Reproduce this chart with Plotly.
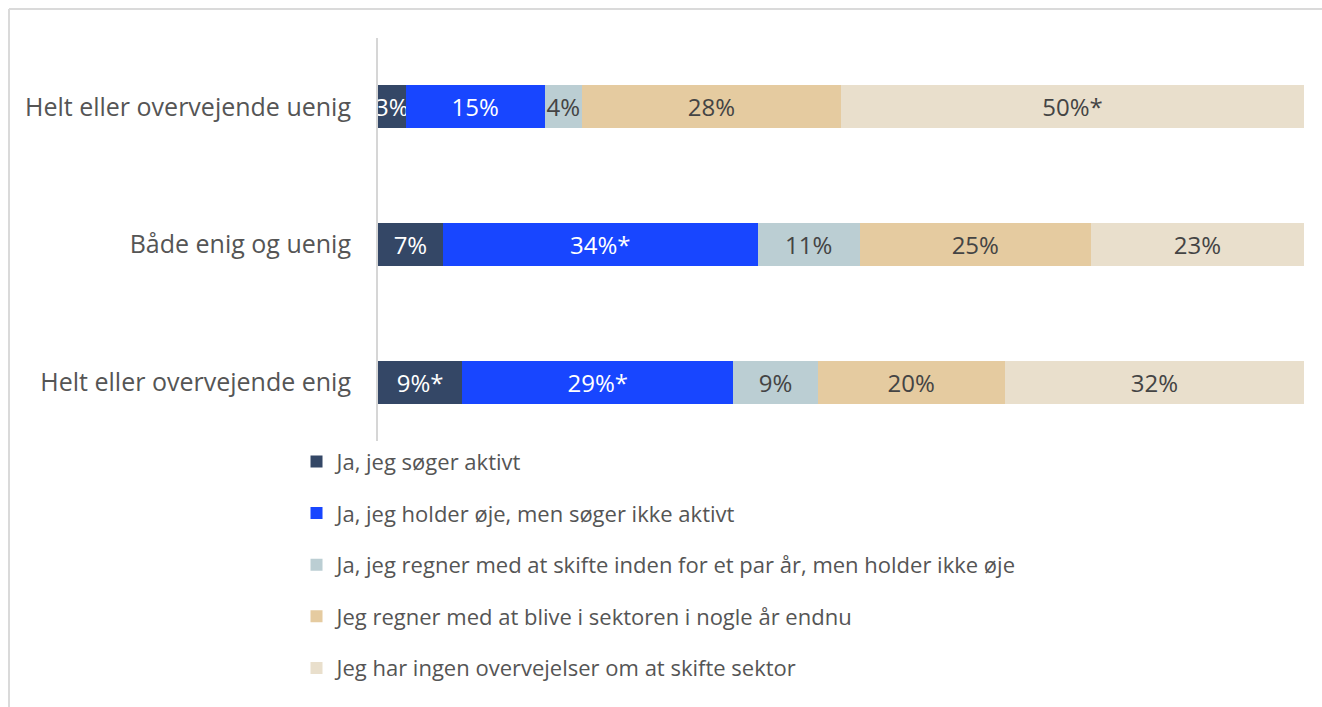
import plotly.graph_objects as go

# Response groups (top to bottom) and answer options
categories = [
    "Helt eller overvejende uenig",
    "Både enig og uenig",
    "Helt eller overvejende enig",
]
series_names = [
    "Ja, jeg søger aktivt",
    "Ja, jeg holder øje, men søger ikke aktivt",
    "Ja, jeg regner med at skifte inden for et par år, men holder ikke øje",
    "Jeg regner med at blive i sektoren i nogle år endnu",
    "Jeg har ingen overvejelser om at skifte sektor",
]
values = [
    [3, 7, 9],
    [15, 34, 29],
    [4, 11, 9],
    [28, 25, 20],
    [50, 23, 32],
]
# Significance markers appended to the value labels
markers = [
    ["", "", "*"],
    ["", "*", "*"],
    ["", "", ""],
    ["", "", ""],
    ["*", "", ""],
]
colors = ["#344766", "#1846FF", "#BBCED3", "#E5CBA0", "#E9DFCC"]
text_colors = ["#FFFFFF", "#FFFFFF", "#444444", "#444444", "#444444"]

FONT = "Open Sans"

fig = go.Figure()
for i, name in enumerate(series_names):
    fig.add_trace(go.Bar(
        y=categories,
        x=values[i],
        name=name,
        orientation="h",
        marker=dict(color=colors[i], line=dict(width=0)),
        text=[f"{v}%{m}" for v, m in zip(values[i], markers[i])],
        textposition="inside",
        insidetextanchor="middle",
        textangle=0,
        constraintext="none",
        textfont=dict(family=FONT, size=24, color=text_colors[i]),
        legendgroup=f"g{i}",
        hoverinfo="skip",
    ))

# Light frame along the top and left edges
fig.add_shape(type="line", xref="paper", yref="paper",
              x0=-0.3985, x1=1.03, y0=1.0702, y1=1.0702,
              line=dict(color="#DADADA", width=2))
fig.add_shape(type="line", xref="paper", yref="paper",
              x0=-0.3985, x1=-0.3985, y0=1.0702, y1=-0.65,
              line=dict(color="#DADADA", width=2))

fig.update_layout(
    width=1322,
    height=707,
    barmode="stack",
    barnorm="percent",
    bargap=0.69,
    plot_bgcolor="white",
    paper_bgcolor="white",
    margin=dict(l=378, r=18, t=38, b=256, autoexpand=False),
    font=dict(family=FONT, color="#555555"),
    uniformtext=dict(minsize=24, mode="show"),
    showlegend=True,
    legend=dict(
        orientation="v",
        traceorder="grouped",
        x=-0.088,
        xanchor="left",
        y=0.025,
        yanchor="top",
        font=dict(family=FONT, size=22, color="#555555"),
        tracegroupgap=20,
        itemclick=False,
        itemdoubleclick=False,
    ),
    xaxis=dict(
        range=[0, 100],
        showgrid=False,
        zeroline=False,
        showticklabels=False,
        showline=False,
        fixedrange=True,
    ),
    yaxis=dict(
        categoryorder="array",
        categoryarray=categories,
        autorange="reversed",
        showgrid=False,
        zeroline=False,
        showline=True,
        linecolor="#D6D6D6",
        linewidth=2,
        ticks="",
        ticklabelstandoff=20,
        tickfont=dict(family=FONT, size=25, color="#555555"),
        fixedrange=True,
    ),
)

fig.write_html("out.html", config={"displayModeBar": False})
